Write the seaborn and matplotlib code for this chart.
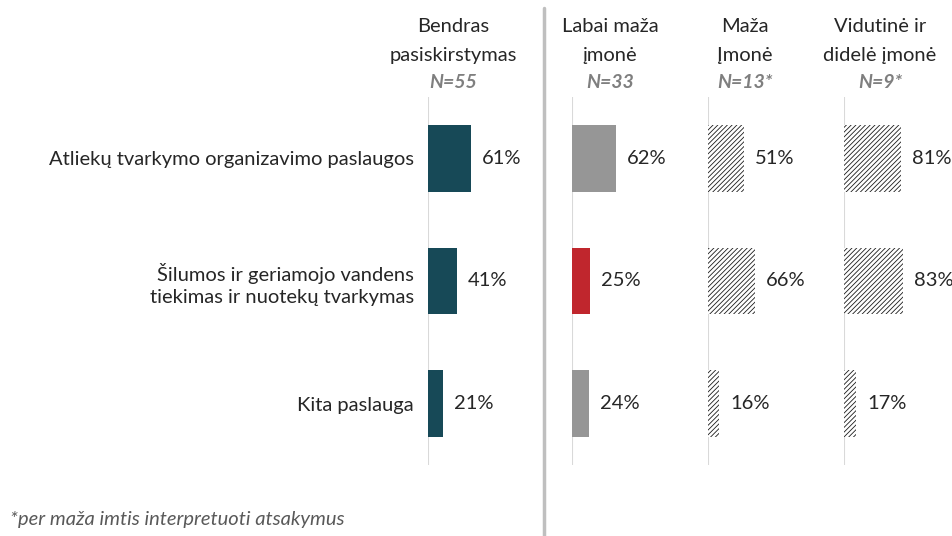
import matplotlib
matplotlib.use("Agg")
import matplotlib.pyplot as plt
import seaborn as sns
import pandas as pd

sns.set_style("white")
plt.rcParams['font.family'] = ['Lato', 'DejaVu Sans']
plt.rcParams['hatch.linewidth'] = 0.6

categories = ["Atliekų tvarkymo organizavimo paslaugos",
              "Šilumos ir geriamojo vandens\ntiekimas ir nuotekų tvarkymas",
              "Kita paslauga"]
bendras = [61, 41, 21]
labai_maza = [62, 25, 24]
maza = [51, 66, 16]
vidutine = [81, 83, 17]

panel_titles = ["Bendras\npasiskirstymas", "Labai maža\nįmonė", "Maža\nĮmonė", "Vidutinė ir\ndidelė įmonė"]
panel_n = ["N=55", "N=33", "N=13*", "N=9*"]
footnote = "*per maža imtis interpretuoti atsakymus"

W, H = 952, 536
fig = plt.figure(figsize=(W / 100, H / 100), dpi=100)

def fx(px):
    return px / W

def fy(py):
    return 1 - py / H

FS = 14.5
TXT = "#262626"
px_per_pct = 0.705
ax_w_px = 120
baselines = [428, 572, 708, 844]
top_px, bot_px = 97, 465
series = [bendras, labai_maza, maza, vidutine]
colors = [["#174957"] * 3, ["#969696", "#C0262D", "#969696"], ["white"] * 3, ["white"] * 3]
hatched = [False, False, True, True]
title_x = [453, 610, 745, 880]

for i, (bx, vals) in enumerate(zip(baselines, series)):
    ax = fig.add_axes([fx(bx), fy(bot_px), fx(ax_w_px), (bot_px - top_px) / H])
    df = pd.DataFrame({"cat": categories, "val": vals})
    sns.barplot(data=df, x="val", y="cat", hue="cat", palette=colors[i], orient="h",
                ax=ax, legend=False, width=0.545, linewidth=0, saturation=1,
                edgecolor="black" if hatched[i] else "none")
    if hatched[i]:
        for p in ax.patches:
            p.set_hatch("/" * 7)
            p.set_edgecolor("#1a1a1a")
            p.set_linewidth(0)
    ax.set_xlim(0, ax_w_px / px_per_pct)
    ax.set_ylim(2.5, -0.5)
    for s in ax.spines.values():
        s.set_visible(False)
    ax.axvline(0, color="#d9d9d9", lw=1.5, zorder=0)
    ax.set_xticks([])
    ax.set_xlabel("")
    ax.set_ylabel("")
    if i == 0:
        ax.tick_params(axis="y", length=0, pad=10, labelsize=FS, labelcolor=TXT)
        for lbl in ax.get_yticklabels():
            lbl.set_horizontalalignment("right")
            lbl.set_multialignment("right")
            lbl.set_linespacing(1.3)
    else:
        ax.set_yticks([])
    for j, v in enumerate(vals):
        ax.text(v + 11 / px_per_pct, j, f"{v}%", va="center", ha="left",
                fontsize=FS, color=TXT)
    ax.patch.set_alpha(0)
    fig.text(fx(title_x[i]), fy(27), panel_titles[i].split("\n")[0], ha="center", va="center",
             fontsize=FS, color=TXT)
    fig.text(fx(title_x[i]), fy(55), panel_titles[i].split("\n")[1], ha="center", va="center",
             fontsize=FS, color=TXT)
    fig.text(fx(title_x[i]), fy(82), panel_n[i], ha="center", va="center",
             fontsize=FS - 0.5, color="#7f7f7f", style="italic", weight="bold")

fig.add_artist(plt.Line2D([fx(544), fx(544)], [0, fy(8)], color="#bfbfbf", lw=2.5))
fig.text(fx(10), fy(519), footnote, ha="left", va="center", fontsize=FS,
         color="#595959", style="italic")

fig.savefig("out.png", dpi=100)
